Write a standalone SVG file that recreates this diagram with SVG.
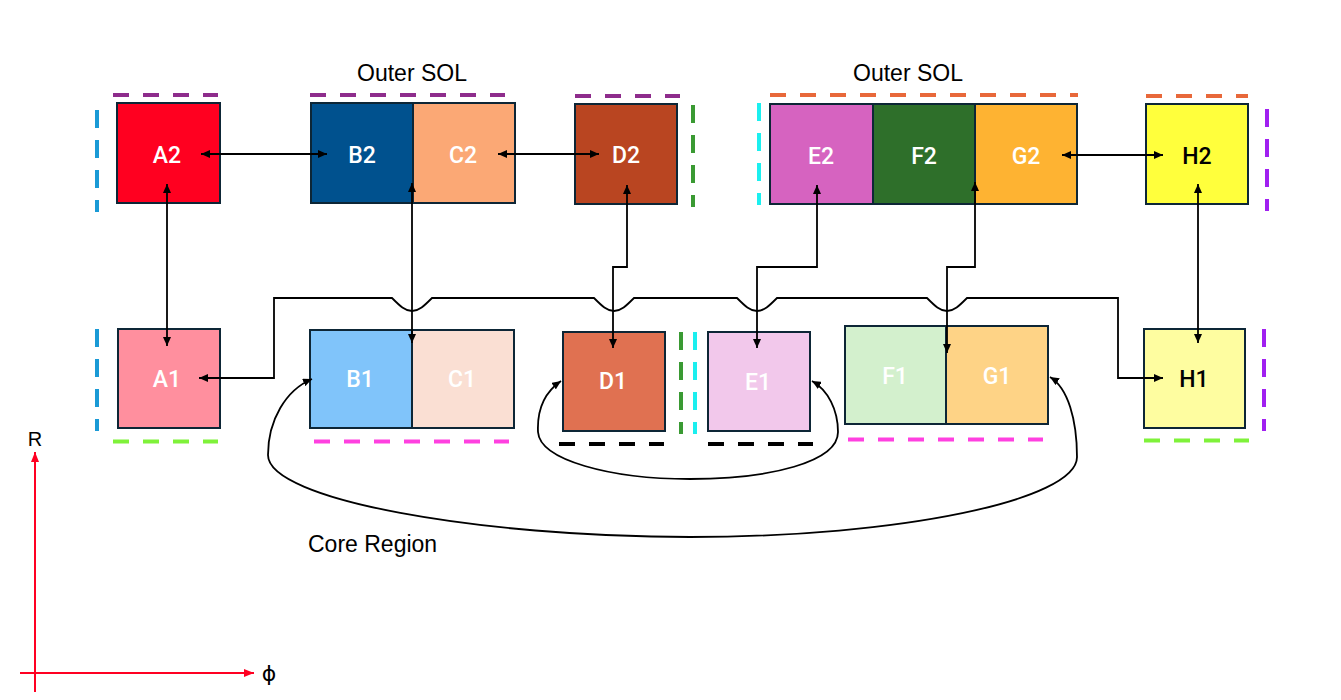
<svg xmlns="http://www.w3.org/2000/svg" width="1341" height="700" viewBox="0 0 1341 700">
<defs>
<style>
.box{stroke:#0D2636;stroke-width:2}
.lbl{font-family:Roboto,"Liberation Sans",sans-serif;font-size:23px;font-weight:500;fill:#fff;text-anchor:middle}
.lbl.dk{fill:#000}
.ttl{font-family:"Liberation Sans",Arial,sans-serif;font-size:23px;fill:#000}
.con{fill:none;stroke:#000;stroke-width:1.8;marker-start:url(#ah);marker-end:url(#ah)}
.dh{fill:none;stroke-width:4;stroke-dasharray:16 14}
.dv{fill:none;stroke-width:4;stroke-dasharray:18 12}
.ax{stroke:#FF0022;stroke-width:2;fill:none}
</style>
<marker id="ah" viewBox="0 0 9 8" refX="9" refY="4" markerWidth="9" markerHeight="8" markerUnits="userSpaceOnUse" orient="auto-start-reverse">
<path d="M0,0 L9,4 L0,8 z" fill="#000"/>
</marker>
<marker id="rah" viewBox="0 0 10 8" refX="10" refY="4" markerWidth="10" markerHeight="8" markerUnits="userSpaceOnUse" orient="auto">
<path d="M0,0 L10,4 L0,8 z" fill="#FF0022"/>
</marker>
</defs>
<rect width="1341" height="700" fill="#fff"/>

<g id="boundaries">
<line class="dh" stroke="#8E2C8C" x1="113" y1="95" x2="218" y2="95"/>
<line class="dh" stroke="#8E2C8C" x1="310" y1="95" x2="505" y2="95"/>
<line class="dh" stroke="#8E2C8C" x1="575" y1="96" x2="680" y2="96"/>
<line class="dh" stroke="#E8683A" x1="770" y1="95" x2="1078" y2="95"/>
<line class="dh" stroke="#E8683A" x1="1146" y1="96" x2="1248" y2="96"/>
<line class="dv" stroke="#1A9AD6" x1="97" y1="110" x2="97" y2="212"/>
<line class="dv" stroke="#3A9A33" x1="693" y1="105" x2="693" y2="207"/>
<line class="dv" stroke="#1BEFEF" x1="759" y1="103" x2="759" y2="205"/>
<line class="dv" stroke="#A020F0" x1="1267" y1="109" x2="1267" y2="211"/>
<line class="dv" stroke="#1A9AD6" x1="97" y1="329" x2="97" y2="431"/>
<line class="dv" stroke="#3A9A33" x1="681" y1="332" x2="681" y2="434"/>
<line class="dv" stroke="#1BEFEF" x1="695" y1="332" x2="695" y2="434"/>
<line class="dv" stroke="#A020F0" x1="1264" y1="329" x2="1264" y2="431"/>
<line class="dh" stroke="#7FF23A" x1="113" y1="441.5" x2="218" y2="441.5"/>
<line class="dh" stroke="#FF40E0" x1="314" y1="441.5" x2="509" y2="441.5"/>
<line class="dh" stroke="#000" x1="559" y1="444" x2="664" y2="444"/>
<line class="dh" stroke="#000" x1="708" y1="444" x2="813" y2="444"/>
<line class="dh" stroke="#FF40E0" x1="848" y1="439.5" x2="1043" y2="439.5"/>
<line class="dh" stroke="#7FF23A" x1="1144" y1="440.5" x2="1249" y2="440.5"/>
</g>

<g id="A2"><rect class="box" x="117" y="103" width="103" height="100" fill="#FF0020"/><text class="lbl" x="167" y="163">A2</text></g>
<g id="B2"><rect class="box" x="311" y="103" width="102" height="100" fill="#00518E"/><text class="lbl" x="362" y="163">B2</text></g>
<g id="C2"><rect class="box" x="413" y="103" width="102" height="100" fill="#FBA875"/><text class="lbl" x="463" y="163">C2</text></g>
<g id="D2"><rect class="box" x="575" y="104" width="102" height="100" fill="#B94521"/><text class="lbl" x="626" y="163">D2</text></g>
<g id="E2"><rect class="box" x="770" y="104" width="103" height="100" fill="#D663C0"/><text class="lbl" x="821" y="164">E2</text></g>
<g id="F2"><rect class="box" x="873" y="104" width="102" height="100" fill="#2E6F2A"/><text class="lbl" x="924" y="164">F2</text></g>
<g id="G2"><rect class="box" x="975" y="104" width="102" height="100" fill="#FEB332"/><text class="lbl" x="1026" y="164">G2</text></g>
<g id="H2"><rect class="box" x="1146" y="104" width="102" height="100" fill="#FFFF3C"/><text class="lbl dk" x="1197" y="164">H2</text></g>

<g id="A1"><rect class="box" x="118" y="329" width="102" height="99" fill="#FF8F9E"/><text class="lbl" x="167" y="387">A1</text></g>
<g id="B1"><rect class="box" x="310" y="330" width="102" height="98" fill="#80C4FA"/><text class="lbl" x="360" y="387">B1</text></g>
<g id="C1"><rect class="box" x="412" y="330" width="102" height="98" fill="#FADFD3"/><text class="lbl" x="462" y="387">C1</text></g>
<g id="D1"><rect class="box" x="563" y="332" width="102" height="99" fill="#E07151"/><text class="lbl" x="613" y="389">D1</text></g>
<g id="E1"><rect class="box" x="708" y="332" width="102" height="99" fill="#F2C8EB"/><text class="lbl" x="758" y="390">E1</text></g>
<g id="F1"><rect class="box" x="845" y="326" width="101" height="98" fill="#D3F0CD"/><text class="lbl" x="895" y="384">F1</text></g>
<g id="G1"><rect class="box" x="946" y="326" width="102" height="98" fill="#FED386"/><text class="lbl" x="997" y="384">G1</text></g>
<g id="H1"><rect class="box" x="1144" y="329" width="101" height="99" fill="#FEFDA0"/><text class="lbl dk" x="1194" y="387">H1</text></g>

<g id="connectors">
<path class="con" d="M201,154 H327"/>
<path class="con" d="M498,154 H599"/>
<path class="con" d="M1062,155 H1163"/>
<path class="con" d="M167,184 V346"/>
<path class="con" d="M412,183 V343"/>
<path class="con" d="M627,185 V267 H613 V348"/>
<path class="con" d="M817,185 V267 H757 V348"/>
<path class="con" d="M975,182 V267 H947 V353"/>
<path class="con" d="M1198,184 V343"/>
<path class="con" d="M199,378 H274 V298 H392 C400,306 405,311 412,311 C419,311 424,306 432,298 H594 C602,306 607,311 614,311 C621,311 626,306 634,298 H737 C745,306 750,311 757,311 C764,311 769,306 777,298 H927 C935,306 940,311 947,311 C954,311 959,306 967,298 H1118 V378 H1163"/>
<path class="con" d="M312,379 C286,390 268,420 268,455 C268,500 480,537 690,537 C900,537 1077,500 1077,457 C1077,420 1068,388 1050,377"/>
<path class="con" d="M561,381 C545,392 537,410 538,432 C540,460 610,479 690,479 C770,479 838,462 838,432 C838,410 828,390 812,381"/>
</g>

<g id="titles">
<text class="ttl" x="412" y="81" text-anchor="middle">Outer SOL</text>
<text class="ttl" x="908" y="81" text-anchor="middle">Outer SOL</text>
<text class="ttl" x="308" y="552">Core Region</text>
</g>

<g id="axes">
<line class="ax" x1="35" y1="692" x2="35" y2="452" marker-end="url(#rah)"/>
<line class="ax" x1="20" y1="673" x2="254" y2="673" marker-end="url(#rah)"/>
<text x="35" y="446" text-anchor="middle" font-family="Liberation Sans, Arial, sans-serif" font-size="20">R</text>
<text x="269" y="681" text-anchor="middle" font-family="DejaVu Sans, sans-serif" font-size="22">ϕ</text>
</g>
</svg>
